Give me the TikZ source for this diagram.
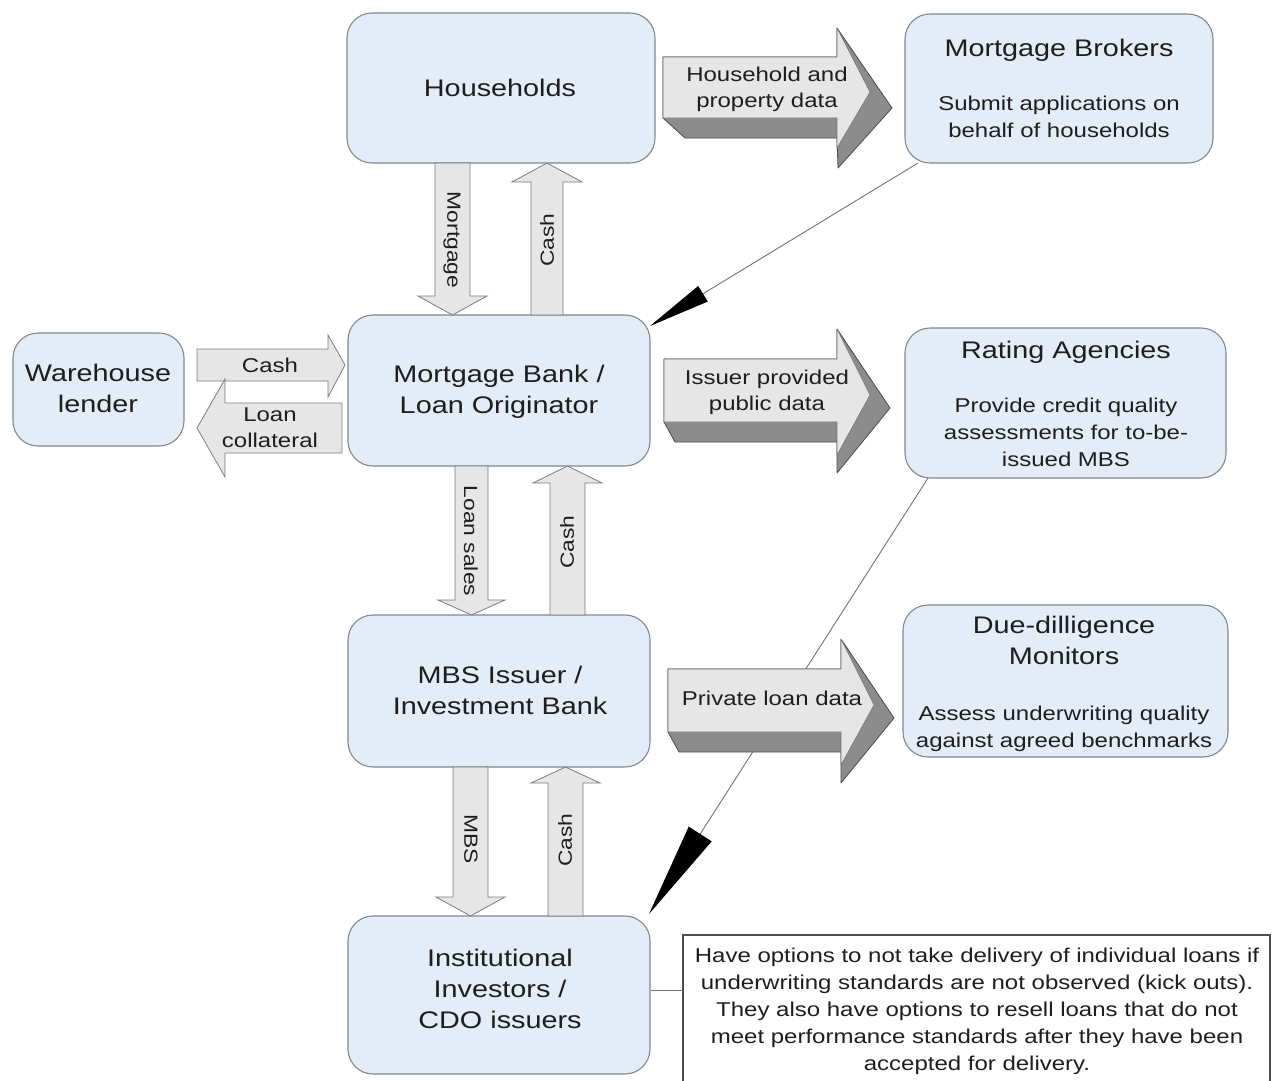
\documentclass[tikz,border=0pt]{standalone}
\usepackage{fontspec}
\setmainfont{Liberation Sans}[FakeStretch=1.2]
\usetikzlibrary{arrows.meta}
\definecolor{boxfill}{RGB}{228,236,247}
\definecolor{boxline}{RGB}{128,136,146}
\definecolor{arrfill}{RGB}{230,230,230}
\definecolor{arrline}{RGB}{125,125,125}
\definecolor{extr}{RGB}{140,140,140}
\definecolor{txt}{RGB}{30,30,30}
\newcommand\fTitle{\fontsize{24}{31}\selectfont}
\newcommand\fDesc{\fontsize{20}{27}\selectfont}
\newcommand\fLab{\fontsize{20}{26}\selectfont}
\newcommand\fVert{\fontsize{19}{24}\selectfont}
\tikzset{
  box/.style={draw=boxline, fill=boxfill, line width=1.1pt, rounded corners=25pt, inner sep=0pt},
  titletext/.style={font=\fTitle, text=txt, align=center, inner sep=0pt},
  desctext/.style={font=\fDesc, text=txt, align=center, inner sep=0pt},
  labtext/.style={font=\fLab, text=txt, align=center, inner sep=0pt},
  verttext/.style={font=\fVert, text=txt, inner sep=0pt},
  flatarr/.style={fill=arrfill, draw=arrline, line width=0.8pt, line join=miter},
  extrusion/.style={fill=extr, draw=black!70, line width=0.8pt, line join=round},
  face/.style={fill=arrfill, draw=black!55, line width=0.6pt, line join=round},
  pointer/.style={draw=black!55, line width=0.9pt},
}
\begin{document}
\begin{tikzpicture}[x=1pt,y=-1pt]
\clip (0,0) rectangle (1274,1081);
\fill[white] (0,0) rectangle (1274,1081);

% ---------- boxes ----------
\node[box, minimum width=308pt, minimum height=150pt] (hh) at (501,88) {};
\node[box, minimum width=308pt, minimum height=149pt] (brok) at (1059,88.5) {};
\node[box, minimum width=171pt, minimum height=113pt] (wh) at (98.5,389.5) {};
\node[box, minimum width=302pt, minimum height=151pt] (mb) at (499,390.5) {};
\node[box, minimum width=321pt, minimum height=150pt] (ra) at (1065.5,403) {};
\node[box, minimum width=302pt, minimum height=152pt] (mbs) at (499,691) {};
\node[box, minimum width=325pt, minimum height=152pt] (dd) at (1065.5,681) {};
\node[box, minimum width=302pt, minimum height=158pt] (inst) at (499,995) {};
\node[draw=black!70, fill=white, line width=1.2pt, minimum width=587pt, minimum height=160pt, inner sep=0pt] (note) at (976.5,1015) {};

% ---------- pointer lines (behind block arrows) ----------
\coordinate (p1s) at (918,163);
\coordinate (p1e) at (650,326);
\coordinate (p2s) at (928,478);
\coordinate (p2e) at (649,914);
\draw[pointer, -{Triangle[length=62pt,width=18pt,color=black]}] (p1s) -- (p1e);
\draw[pointer, -{Triangle[length=95pt,width=27pt,color=black]}] (p2s) -- (p2e);
\coordinate (nl) at (683,990);
\draw[draw=black!55, line width=0.9pt] (inst.east |- nl) -- (nl);

% ---------- flat block arrows ----------
\filldraw[flatarr] (435,163) -- (470,163) -- (470,296) -- (487,296) -- (452.5,315) -- (418,296) -- (435,296) -- cycle;
\filldraw[flatarr] (531,315) -- (563,315) -- (563,182) -- (582,182) -- (547,163) -- (512,182) -- (531,182) -- cycle;
\filldraw[flatarr] (455,466) -- (488,466) -- (488,600) -- (505,600) -- (471.5,615) -- (438,600) -- (455,600) -- cycle;
\filldraw[flatarr] (550,615) -- (585,615) -- (585,483) -- (602,483) -- (567.5,466) -- (533,483) -- (550,483) -- cycle;
\filldraw[flatarr] (453,767) -- (488,767) -- (488,897) -- (505,897) -- (470.5,916) -- (436,897) -- (453,897) -- cycle;
\filldraw[flatarr] (548,916) -- (583,916) -- (583,783) -- (600,783) -- (565.5,767) -- (531,783) -- (548,783) -- cycle;
\filldraw[flatarr] (197,349) -- (328,349) -- (328,335) -- (345,365) -- (328,397) -- (328,381) -- (197,381) -- cycle;
\filldraw[flatarr] (342,403) -- (225,403) -- (225,379) -- (197,428) -- (225,477) -- (225,453) -- (342,453) -- cycle;

% ---------- 3D block arrows ----------
\filldraw[extrusion] (663,57) -- (837,57) -- (837,28) -- (892,108) -- (838,168) -- (837,138) -- (685,138) -- (663,118) -- cycle;
\filldraw[face] (663,57) -- (837,57) -- (837,28) -- (870,92) -- (837,148) -- (837,118) -- (663,118) -- cycle;
\filldraw[extrusion] (664,359) -- (837,359) -- (837,329) -- (890,408) -- (837,473) -- (837,442) -- (675,442) -- (664,422) -- cycle;
\filldraw[face] (664,359) -- (837,359) -- (837,329) -- (870,395) -- (837,455) -- (837,422) -- (664,422) -- cycle;
\filldraw[extrusion] (668,669) -- (841,669) -- (841,639) -- (894,718) -- (841,783) -- (841,752) -- (679,752) -- (668,732) -- cycle;
\filldraw[face] (668,669) -- (841,669) -- (841,639) -- (874,705) -- (841,765) -- (841,732) -- (668,732) -- cycle;

% ---------- texts ----------
\node[titletext] (hhT) at (500,90.4) {\strut Households};
\node[titletext] (brokT) at (1059,50.4) {\strut Mortgage Brokers};
\node[desctext] (brokD) at (1059,118.3) {\strut Submit applications on\\ behalf of households\strut};
\node[titletext] (whT) at (98,390.9) {\strut Warehouse\\ lender\strut};
\node[titletext] (mbT) at (499,391.9) {\strut Mortgage Bank /\\ Loan Originator\strut};
\node[titletext] (raT) at (1066,352.4) {\strut Rating Agencies};
\node[desctext] (raD) at (1066,433.8) {\strut Provide credit quality\\ assessments for to-be-\\ issued MBS\strut};
\node[titletext] (mbsT) at (500,692.9) {\strut MBS Issuer /\\ Investment Bank\strut};
\node[titletext] (ddT) at (1064,642.9) {\strut Due-dilligence\\ Monitors\strut};
\node[desctext] (ddD) at (1064,728.3) {\strut Assess underwriting quality\\ against agreed benchmarks\strut};
\node[titletext] (instT) at (500,991.4) {\strut Institutional\\ Investors /\\ CDO issuers\strut};
\node[desctext] (noteT) at (977,1010.8) {\strut Have options to not take delivery of individual loans if\\ underwriting standards are not observed (kick outs).\\ They also have options to resell loans that do not\\ meet performance standards after they have been\\ accepted for delivery.\strut};

\node[labtext] (l1) at (767,89) {\strut Household and\\ property data\strut};
\node[labtext] (l2) at (767,392) {\strut Issuer provided\\ public data\strut};
\node[labtext] (l3) at (772,700) {\strut Private loan data};
\node[labtext] (l4) at (270,367) {\strut Cash};
\node[labtext] (l5) at (270,429) {\strut Loan\\ collateral\strut};

\node[verttext, rotate=-90] (v1) at (452,240) {Mortgage};
\node[verttext, rotate=90] (v2) at (547,240) {Cash};
\node[verttext, rotate=-90] (v3) at (471,541) {Loan sales};
\node[verttext, rotate=90] (v4) at (567,542) {Cash};
\node[verttext, rotate=-90] (v5) at (471,839) {MBS};
\node[verttext, rotate=90] (v6) at (565,840) {Cash};
\end{tikzpicture}
\end{document}
